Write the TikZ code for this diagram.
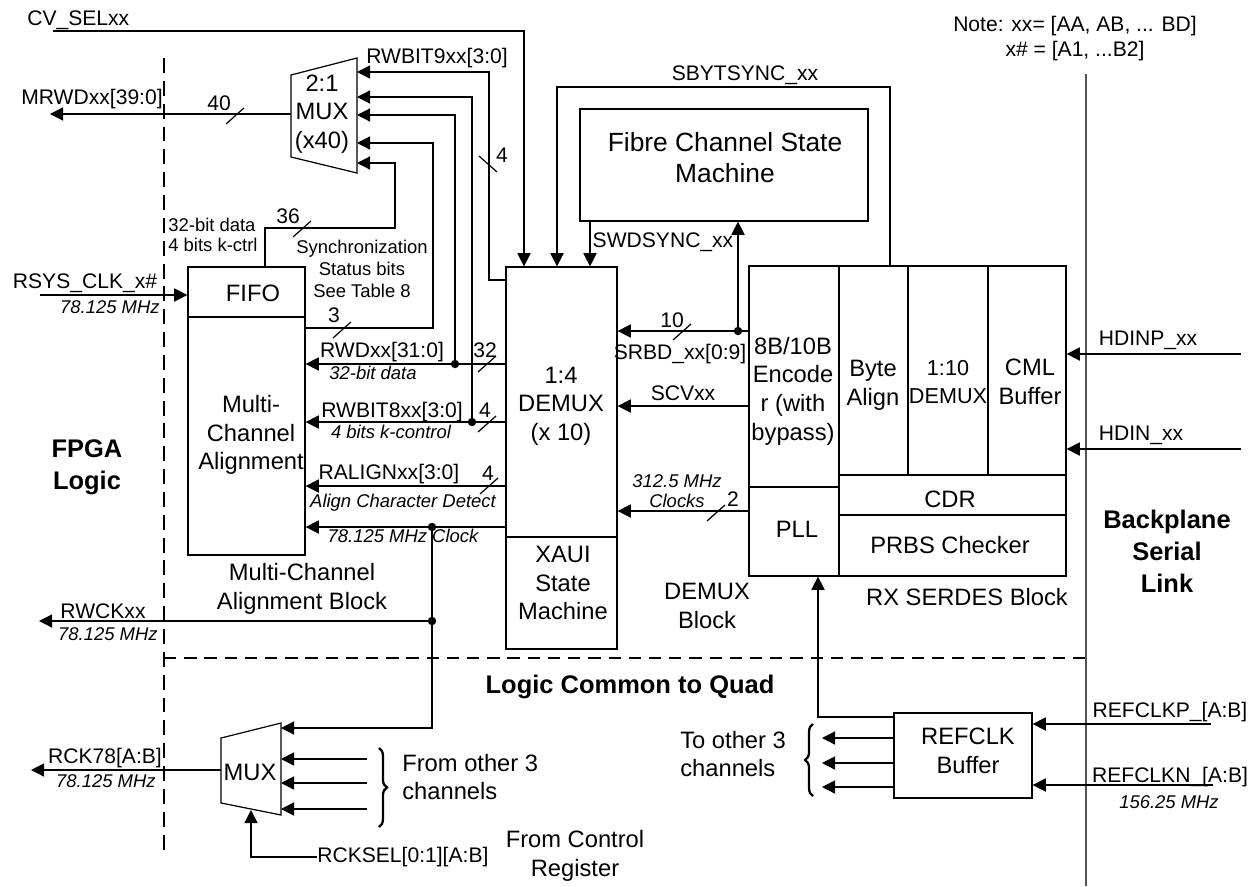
\documentclass[tikz,border=0pt]{standalone}
\usepackage{fontspec}
\setmainfont{Liberation Sans}
\usetikzlibrary{arrows.meta,positioning,fit,decorations.pathreplacing}
\newcommand{\lblfont}{\fontsize{12}{14}\selectfont}
\newcommand{\smfont}{\fontsize{10.5}{11.4}\selectfont}
\newcommand{\itfont}{\fontsize{10.5}{11}\selectfont\itshape}
\newcommand{\blkfont}{\fontsize{13.5}{16.3}\selectfont}
\newcommand{\fcfont}{\fontsize{15}{17.6}\selectfont}
\newcommand{\hdfont}{\fontsize{14.5}{18.2}\selectfont\bfseries}
\definecolor{railgray}{RGB}{85,85,85}

\begin{document}
\begin{tikzpicture}[x=0.02cm,y=-0.02cm,
    wire/.style={line width=0.7pt},
    sig/.style={wire,-{Triangle[length=7.5pt,width=7.5pt]}},
    box/.style={draw,line width=0.7pt,inner sep=0pt},
    lbl/.style={font=\lblfont,inner sep=0pt,anchor=base},
    itl/.style={font=\itfont,inner sep=0pt,anchor=base},
    txt/.style={font=\blkfont,align=center,inner sep=0pt},
    hd/.style={font=\hdfont,align=center,inner sep=0pt},
    brc/.style={decorate,decoration={brace,amplitude=4.5pt},line width=1.3pt},
    busmark/.pic={\draw[wire] (-9,8) -- (9,-8);},
    vbusmark/.pic={\draw[wire] (-9,-8) -- (9,8);}]
    \useasboundingbox (0,0) rectangle (1254,886);

    \draw[wire,dash pattern=on 8.5pt off 4.5pt] (164,58) -- (164,857);
    \draw[wire,dash pattern=on 7pt off 4.5pt] (164,658) -- (1086,658);
    \draw[railgray,line width=0.9pt] (1086,74) -- (1086,886);

    \node[box,fit={(188,267)(305,555)}] (mca) {};
    \draw[wire] (mca.west |- 0,317) -- (mca.east |- 0,317);
    \node[box,fit={(506,267)(617,649)}] (demux) {};
    \draw[wire] (demux.west |- 0,537) -- (demux.east |- 0,537);
    \node[box,fit={(580,109)(868,221)}] (fcsm) {};
    \node[box,fit={(749,266)(1066,576)}] (serdes) {};
    \draw[wire] (839,0 |- serdes.north) -- (839,0 |- serdes.south);
    \draw[wire] (serdes.west |- 0,487) -- (839,487);
    \draw[wire] (908,0 |- serdes.north) -- (908,475);
    \draw[wire] (988,0 |- serdes.north) -- (988,475);
    \draw[wire] (839,475) -- (serdes.east |- 0,475);
    \draw[wire] (839,515) -- (serdes.east |- 0,515);
    \node[box,fit={(894,713)(1032,798)}] (refclk) {};

    \draw[wire] (291,75) -- (357,58) -- (357,173) -- (291,157) -- cycle;
    \coordinate (m1r) at (357,115);
    \coordinate (m1l) at (291,114);
    \draw[wire] (221,738) -- (281,723) -- (281,815) -- (221,803) -- cycle;
    \coordinate (m2r) at (281,770);
    \coordinate (m2l) at (221,770);
    \coordinate (m2b) at (251,810);

    \node[txt] (fifotxt) at (253,293) {FIFO};
    \node[txt] (mcatxt) at (251,435) {Multi-\\Channel\\Alignment};
    \node[txt] (mux1txt) at (322,114) {2:1\\MUX\\(x40)};
    \node[txt] (demuxtxt) at (561,406) {1:4\\DEMUX\\(x 10)};
    \node[txt] (xauitxt) at (563,583) {XAUI\\State\\Machine};
    \node[txt,font=\fcfont] (fcsmtxt) at (725,158) {Fibre Channel State\\Machine};
    \node[txt] (enctxt) at (793,391) {8B/10B\\Encode\\r (with\\bypass)};
    \node[txt] (bytetxt) at (873,385) {Byte\\Align};
    \node[txt,font=\fontsize{12.3}{16.3}\selectfont] (desertxt) at (948,382) {1:10\\DEMUX};
    \node[txt] (cmltxt) at (1030,382) {CML\\Buffer};
    \node[txt,anchor=base] (cdrtxt) at (950,507) {CDR};
    \node[txt,anchor=base] (prbstxt) at (950,553) {PRBS Checker};
    \node[txt,anchor=base] (plltxt) at (797,537) {PLL};
    \node[txt,anchor=base] (serdeslbl) at (967,605) {RX SERDES Block};
    \node[txt] (demuxlbl) at (707,606) {DEMUX\\Block};
    \node[txt] (mcalbl) at (302,589) {Multi-Channel\\Alignment Block};
    \node[txt] (refclktxt) at (968,751) {REFCLK\\Buffer};
    \node[txt,align=left,anchor=west] (tootherlbl) at (680,754) {To other 3\\channels};
    \node[txt,align=left,anchor=west] (fromotherlbl) at (402,777) {From other 3\\channels};
    \node[txt] (ctrllbl) at (575,856) {From Control\\Register};
    \node[txt,anchor=base] (mux2txt) at (250,780) {MUX};
    \node[hd] (fpgalbl) at (87,467) {FPGA\\Logic};
    \node[hd] (bplbl) at (1167,551) {Backplane\\Serial\\Link};
    \node[hd,anchor=base] (quadlbl) at (630,693) {Logic Common to Quad};
    \node[font=\fontsize{12}{14.2}\selectfont,align=center,inner sep=0pt] (notelbl) at (1075,39) {Note: xx= [AA, AB, ... BD]\\x\# = [A1, ...B2]};
    \node[font=\smfont,align=left,inner sep=0pt,anchor=west] (bitslbl) at (168,235) {32-bit data\\4 bits k-ctrl};
    \node[font=\fontsize{10.5}{12.5}\selectfont,align=center,inner sep=0pt] (synclbl) at (362,269) {Synchronization\\Status bits\\See Table 8};

    \coordinate (cvsel) at (53,31);
    \draw[sig] (cvsel) -| (524,0 |- demux.north);
    \node[lbl,anchor=base west] (cvsellbl) at (27,25) {CV\_SELxx};

    \coordinate (mrwd) at (50,114);
    \draw[sig] (m1l) -- (mrwd);
    \node[lbl] (mrwdlbl) at (92,104) {MRWDxx[39:0]};
    \pic at (235,116) {busmark};
    \node[lbl] (w40) at (219,110) {40};

    \draw[sig] (demux.west |- 0,280) -| (489,72) -- (m1r |- 0,72);
    \node[lbl] (rwbit9) at (437,63) {RWBIT9xx[3:0]};
    \pic at (488,164) {vbusmark};
    \node[lbl] (w4a) at (502,162) {4};

    \coordinate (j8) at (472,422);
    \coordinate (jwd) at (455,364);
    \coordinate (jclk) at (432,527);
    \coordinate (jrwck) at (432,621);
    \coordinate (jsrbd) at (738,331);
    \draw[sig] (j8) |- (m1r |- 0,97);
    \draw[sig] (jwd) |- (m1r |- 0,115);
    \draw[sig] (mca.east |- 0,328) -| (433,143) -- (m1r |- 0,143);
    \draw[sig] (265,0 |- mca.north) |- (395,228) |- (m1r |- 0,163);
    \pic at (342,330) {busmark};
    \node[lbl] (w3) at (334,322) {3};
    \pic at (302,229) {busmark};
    \node[lbl] (w36) at (288,223) {36};

    \draw[sig] (demux.west |- jwd) -- (mca.east |- jwd);
    \draw[sig] (demux.west |- j8) -- (mca.east |- j8);
    \draw[sig] (demux.west |- 0,486) -- (mca.east |- 0,486);
    \draw[sig] (demux.west |- jclk) -- (mca.east |- jclk);
    \pic at (487,364) {busmark};
    \pic at (487,424) {busmark};
    \pic at (489,486) {busmark};
    \node[lbl] (rwdlbl) at (382,357) {RWDxx[31:0]};
    \node[itl] (rwdit) at (373,379) {32-bit data};
    \node[lbl] (w32) at (485,357) {32};
    \node[lbl] (rwbit8) at (392,417) {RWBIT8xx[3:0]};
    \node[itl] (rwbit8it) at (391,438) {4 bits k-control};
    \node[lbl] (w4b) at (485,417) {4};
    \node[lbl] (ralign) at (389,479) {RALIGNxx[3:0]};
    \node[itl] (ralignit) at (403,507) {Align Character Detect};
    \node[lbl] (w4c) at (488,480) {4};
    \node[itl] (clkit) at (403,542) {78.125 MHz Clock};

    \coordinate (rsys) at (40,295);
    \draw[sig] (rsys) -- (mca.west |- rsys);
    \node[lbl] (rsyslbl) at (85,288) {RSYS\_CLK\_x\#};
    \node[itl,anchor=base east] (rsysit) at (160,313) {78.125 MHz};

    \coordinate (rwck) at (39,621);
    \draw[sig] (jrwck) -- (rwck);
    \draw[sig] (jclk) |- (m2r |- 0,728);
    \node[lbl] (rwcklbl) at (103,618) {RWCKxx};
    \node[itl,anchor=base east] (rwckit) at (158,640) {78.125 MHz};

    \foreach \yy in {759,783,809} \draw[sig] (367,\yy) -- (m2r |- 0,\yy);
    \draw[brc] (379,748) -- (379,827);
    \coordinate (rck) at (31,770);
    \draw[sig] (m2l) -- (rck);
    \node[lbl] (rcklbl) at (105,763) {RCK78[A:B]};
    \node[itl,anchor=base east] (rckit) at (156,787) {78.125 MHz};
    \coordinate (rcksel) at (317,857);
    \draw[sig] (rcksel) -| (m2b);
    \node[lbl,anchor=west] (rcksellbl) at (rcksel) {RCKSEL[0:1][A:B]};

    \draw[sig] (serdes.west |- jsrbd) -- (demux.east |- jsrbd);
    \draw[sig] (jsrbd) -- (jsrbd |- fcsm.south);
    \draw[sig] (serdes.west |- 0,406) -- (demux.east |- 0,406);
    \draw[sig] (serdes.west |- 0,511) -- (demux.east |- 0,511);
    \draw[sig] (890,0 |- serdes.north) |- (557,87) -- (557,0 |- demux.north);
    \draw[sig] (590,0 |- fcsm.south) -- (590,0 |- demux.north);
    \pic at (682,332) {busmark};
    \pic at (716,513) {busmark};
    \node[lbl] (sbyt) at (745,80) {SBYTSYNC\_xx};
    \node[lbl] (swd) at (663,247) {SWDSYNC\_xx};
    \node[lbl] (srbd) at (680,359) {SRBD\_xx[0:9]};
    \node[lbl] (w10) at (672,327) {10};
    \node[lbl] (scv) at (683,400) {SCVxx};
    \node[font=\itfont,align=center,inner sep=0pt] (clk312) at (677,491) {312.5 MHz\\Clocks};
    \node[lbl] (w2) at (733,506) {2};

    \draw[sig] (refclk.west |- 0,717) -| (818,0 |- serdes.south);
    \foreach \yy in {738,763,787} \draw[sig] (refclk.west |- 0,\yy) -- (822,\yy);
    \draw[brc] (813,796) -- (813,724);
    \coordinate (refp) at (1211,724);
    \coordinate (refn) at (1213,785);
    \draw[sig] (refp) -- (refclk.east |- refp);
    \draw[sig] (refn) -- (refclk.east |- refn);
    \node[lbl] (refplbl) at (1170,717) {REFCLKP\_[A:B]};
    \node[lbl] (refnlbl) at (1170,782) {REFCLKN\_[A:B]};
    \node[itl] (refnit) at (1169,808) {156.25 MHz};

    \coordinate (hdinp) at (1241,354);
    \coordinate (hdin) at (1241,449);
    \draw[sig] (hdinp) -- (serdes.east |- hdinp);
    \draw[sig] (hdin) -- (serdes.east |- hdin);
    \node[lbl] (hdinplbl) at (1148,345) {HDINP\_xx};
    \node[lbl] (hdinlbl) at (1141,440) {HDIN\_xx};

    \foreach \j in {jwd,j8,jclk,jrwck,jsrbd} \fill (\j) circle (2.4pt);
\end{tikzpicture}
\end{document}
